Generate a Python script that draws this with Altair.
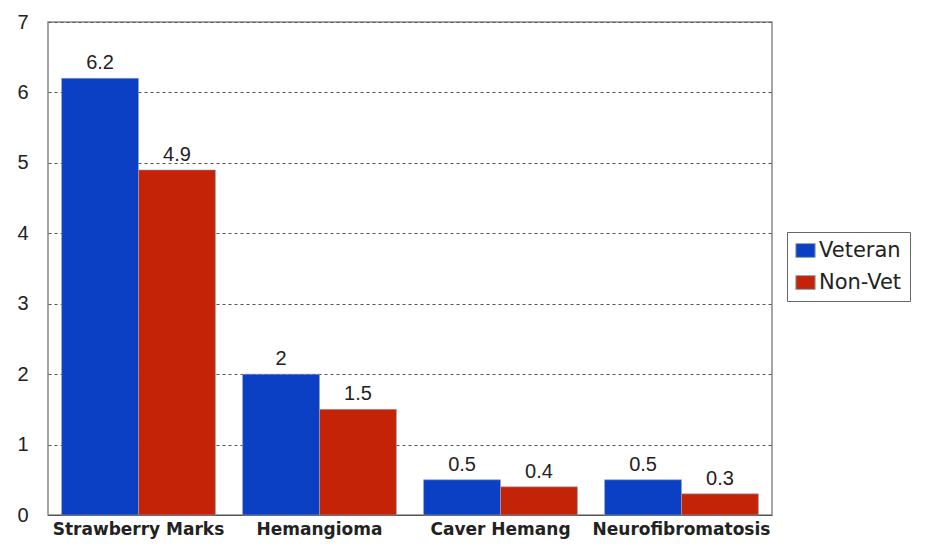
import altair as alt
import pandas as pd

categories = ["Strawberry Marks", "Hemangioma", "Caver Hemang", "Neurofibromatosis"]
series = ["Veteran", "Non-Vet"]
veteran = [6.2, 2, 0.5, 0.5]
nonvet = [4.9, 1.5, 0.4, 0.3]
colors = ["#0b3fc4", "#c42307"]

rows = []
for c, v, n in zip(categories, veteran, nonvet):
    rows.append({"cat": c, "series": "Veteran", "value": v, "label": f"{v:g}"})
    rows.append({"cat": c, "series": "Non-Vet", "value": n, "label": f"{n:g}"})
df = pd.DataFrame(rows)

x = alt.X("cat:N", sort=categories, title=None,
          scale=alt.Scale(paddingInner=0.15, paddingOuter=0.075),
          axis=alt.Axis(labelAngle=0, labelFont="DejaVu Sans", labelFontWeight="bold",
                        labelFontSize=17, labelColor="#222", ticks=False, labelPadding=6,
                        domainColor="#555", labelLimit=0, labelOverlap=False))
xo = alt.XOffset("series:N", sort=series, scale=alt.Scale(paddingInner=0))
color = alt.Color("series:N", sort=series,
                  scale=alt.Scale(domain=series, range=colors),
                  legend=alt.Legend(title=None, orient="none", legendX=739, legendY=210,
                                    strokeColor="#666", padding=8,
                                    symbolType="M-1.4,-1L1.4,-1L1.4,1L-1.4,1Z",
                                    symbolSize=190, symbolStrokeWidth=1, symbolStrokeColor="#8aa",
                                    labelFont="DejaVu Sans", labelFontSize=21, labelColor="#222",
                                    labelOffset=3, rowPadding=10, fillColor="white"))

bars = alt.Chart(df).mark_bar(stroke="#9aa6c0", strokeWidth=0.6).encode(
    x=x, xOffset=xo,
    y=alt.Y("value:Q", title=None,
            scale=alt.Scale(domain=[0, 7], nice=False),
            axis=alt.Axis(values=[0, 1, 2, 3, 4, 5, 6, 7], format="d", ticks=False, domain=False,
                          labelFont="Liberation Sans", labelFontSize=20, labelColor="#222",
                          labelPadding=20, grid=True, gridDash=[3, 3], gridColor="#555",
                          gridWidth=1)),
    color=color,
)

text = alt.Chart(df).mark_text(baseline="bottom", dy=-5, font="Liberation Sans",
                               fontSize=20, color="#222").encode(
    x=alt.X("cat:N", sort=categories), xOffset=xo,
    y=alt.Y("value:Q"),
    text="label:N",
)

chart = alt.layer(bars, text).properties(
    width=724, height=493,
    autosize=alt.AutoSizeParams(type="none"),
    padding={"left": 40, "top": 14, "right": 140, "bottom": 30},
).configure_view(stroke="#888", strokeWidth=1.5)

chart.save("out.html", embed_options={"renderer": "svg", "actions": False})
